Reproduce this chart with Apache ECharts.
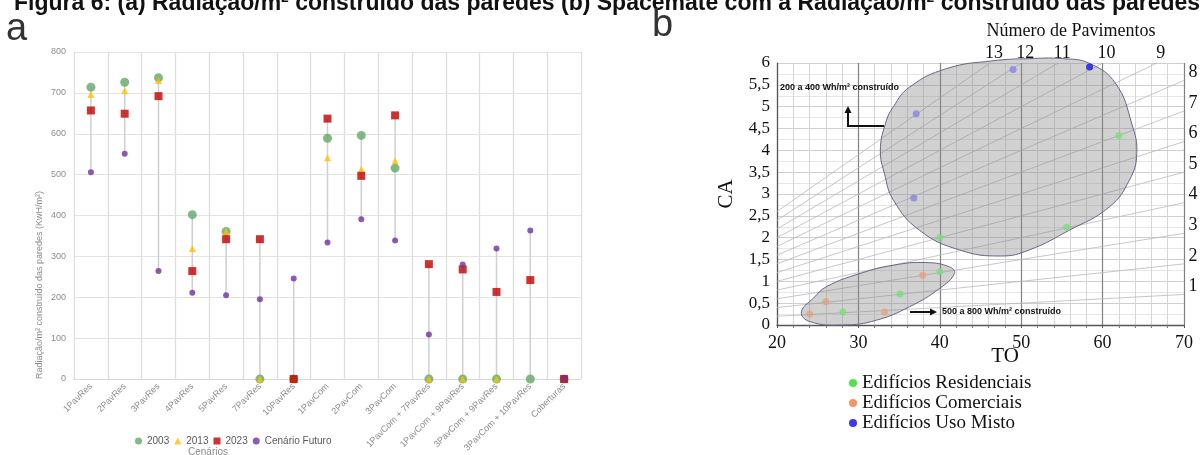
<!DOCTYPE html>
<html><head><meta charset="utf-8">
<script src="https://cdn.jsdelivr.net/npm/echarts@6/dist/echarts.min.js"></script>
<style>html,body{margin:0;padding:0;background:#fff}#c{width:1202px;height:455px}</style>
</head><body><div id="c"></div>
<script>
// ---------- Panel (a) data ----------
const cenarios = ['1PavRes','2PavRes','3PavRes','4PavRes','5PavRes','7PavRes','10PavRes','1PavCom','2PavCom','3PavCom','1PavCom + 7PavRes','1PavCom + 9PavRes','3PavCom + 9PavRes','3PavCom + 10PavRes','Coberturas'];
const v2003   = [714,726,737,402,361,0,0,589,596,516,0,0,0,0,0];
const v2013   = [696,705,730,319,360,0,0,541,513,534,0,0,0,null,0];
const v2023   = [657,649,692,264,342,342,0,637,497,645,281,268,213,242,0];
const vFuturo = [506,551,264,211,205,195,246,334,391,339,109,280,319,363,0];

// ---------- Panel (b) data ----------
const pavimentos = [1,2,3,4,5,6,7,8,9,10,11,12,13];
const residenciais = [[40.0,2.0],[40.0,1.22],[35.1,0.71],[28.1,0.30],[62.0,4.34],[55.6,2.24]];
const comerciais   = [[24.0,0.25],[26.0,0.53],[33.2,0.30],[37.9,1.14]];
const usoMisto     = [[37.1,4.84],[36.8,2.91],[49.0,5.85],[58.4,5.91]];
const blobGrande = [[32.7,4.0],[33.3,4.6],[34.3,5.0],[36.3,5.45],[40.8,5.87],[46.5,6.05],[51,6.1],[55.1,6.1],[58.4,5.99],[61.6,5.53],[63.6,4.6],[64.2,3.93],[63.3,3.32],[60.8,2.7],[55.9,2.17],[51.0,1.72],[47.5,1.58],[42.4,1.72],[37.5,2.17],[34.3,2.86],[33.2,3.47]];
const blobPequeno = [[23.0,0.3],[24.5,0.62],[26.1,0.88],[30.2,1.18],[34.3,1.37],[38.3,1.43],[41.2,1.33],[41.8,1.18],[40.0,0.84],[36.3,0.42],[32.2,0.11],[28.1,0.0],[24.0,0.08]];

const serif = '"Liberation Serif", "Times New Roman", serif';
const sans = '"Liberation Sans", Arial, sans-serif';

const ranges = cenarios.map((c, i) => {
  const vals = [v2003[i], v2013[i], v2023[i], vFuturo[i]].filter(v => v != null);
  return [i, Math.min(...vals), Math.max(...vals)];
});

const chart = echarts.init(document.getElementById('c'));

const option = {
  animation: false,
  backgroundColor: '#fff',
  grid: [
    {left: 74, top: 52, width: 507, height: 327},
    {left: 777, top: 63, width: 407, height: 262}
  ],
  xAxis: [
    {type: 'category', gridIndex: 0, data: cenarios, boundaryGap: true,
     axisLine: {lineStyle: {color: '#d9d9d9'}}, axisTick: {show: false},
     axisLabel: {rotate: 45, fontSize: 9, color: '#8c8c8c', margin: 6, interval: 0, fontFamily: sans},
     splitLine: {show: true, interval: 0, lineStyle: {color: '#dedede', width: 1.3}}},
    {type: 'value', gridIndex: 1, min: 20, max: 70, interval: 10,
     axisLine: {lineStyle: {color: '#555', width: 1.4}},
     axisTick: {show: true, length: 3, lineStyle: {color: '#555'}},
     minorTick: {show: true, splitNumber: 5, length: 3, lineStyle: {color: '#777'}},
     axisLabel: {fontFamily: serif, fontSize: 18, color: '#111', margin: 9},
     splitLine: {show: true, lineStyle: {color: '#808080', width: 1.2}},
     minorSplitLine: {show: true, lineStyle: {color: '#d6d6d6', width: 1}}}
  ],
  yAxis: [
    {type: 'value', gridIndex: 0, min: 0, max: 800, interval: 100,
     axisLine: {show: false}, axisTick: {show: false},
     axisLabel: {fontSize: 9, color: '#8c8c8c', margin: 8, fontFamily: sans},
     splitLine: {lineStyle: {color: '#e3e3e3', width: 1}}},
    {type: 'value', gridIndex: 1, min: 0, max: 6, interval: 0.5,
     name: 'CA', nameLocation: 'middle', nameGap: 40,
     nameTextStyle: {fontFamily: serif, fontSize: 21, color: '#111'},
     axisLine: {show: true, lineStyle: {color: '#555', width: 1.2}},
     axisTick: {show: false},
     axisLabel: {fontFamily: serif, fontSize: 17, color: '#111', margin: 7,
                 formatter: v => String(v).replace('.', ',')},
     splitLine: {lineStyle: {color: '#cfcfcf', width: 1}},
     minorTick: {show: false, splitNumber: 2},
     minorSplitLine: {show: true, lineStyle: {color: '#e6e6e6', width: 1}}}
  ],
  legend: [
    {data: [{name: '2003', icon: 'circle'}, {name: '2013', icon: 'triangle'},
            {name: '2023', icon: 'rect'}, {name: 'Cenário Futuro', icon: 'circle'}],
     left: 130, top: 431, itemWidth: 7, itemHeight: 7, itemGap: 5,
     textStyle: {fontSize: 10, color: '#595959', fontFamily: sans}},
    {data: [{name: 'Edifícios Residenciais', itemStyle: {color: '#22dd22'}},
            {name: 'Edifícios Comerciais', itemStyle: {color: '#f07a40'}},
            {name: 'Edifícios Uso Misto', itemStyle: {color: '#0a0ae6'}}],
     orient: 'vertical', left: 844, top: 368, icon: 'circle', itemWidth: 8, itemHeight: 8, itemGap: 0,
     textStyle: {fontFamily: serif, fontSize: 19, color: '#111', lineHeight: 20}}
  ],
  series: [
    {type: 'custom', name: 'faixa', xAxisIndex: 0, yAxisIndex: 0, data: ranges, z: 1, silent: true,
     encode: {x: 0, y: [1, 2]},
     renderItem: (params, api) => {
       const a = api.coord([api.value(0), api.value(1)]);
       const b = api.coord([api.value(0), api.value(2)]);
       return {type: 'line', shape: {x1: a[0], y1: a[1], x2: b[0], y2: b[1]},
               style: {stroke: '#cfcfcf', lineWidth: 1.5}};
     }},
    {type: 'scatter', name: '2003', xAxisIndex: 0, yAxisIndex: 0, data: v2003, symbol: 'circle', symbolSize: 9,
     itemStyle: {color: '#64a768'}, z: 3},
    {type: 'scatter', name: '2013', xAxisIndex: 0, yAxisIndex: 0, data: v2013, symbol: 'triangle', symbolSize: 7,
     itemStyle: {color: '#ffc000'}, z: 4},
    {type: 'scatter', name: '2023', xAxisIndex: 0, yAxisIndex: 0, data: v2023, symbol: 'rect', symbolSize: 8,
     itemStyle: {color: '#c00000'}, z: 5},
    {type: 'scatter', name: 'Cenário Futuro', xAxisIndex: 0, yAxisIndex: 0, data: vFuturo, symbol: 'circle', symbolSize: 6,
     itemStyle: {color: '#7030a0'}, z: 6},

    // Panel b: floor lines (CA = TO x N / 100)
    {type: 'custom', name: 'pav', xAxisIndex: 1, yAxisIndex: 1, z: 2, silent: true,
     data: pavimentos.map(n => [n, 0]),
     renderItem: (params, api) => {
       const n = api.value(0);
       const toEnd = Math.min(70, 600 / n);
       const p0 = api.coord([20, 20 * n / 100]);
       const p1 = api.coord([toEnd, toEnd * n / 100]);
       const top = api.coord([20, 6])[1];
       const lx = toEnd < 70 ? p1[0] + 4 : p1[0] + 9;
       const ly = toEnd < 70 ? top - 10 : p1[1] - 8;
       return {type: 'group', children: [
         {type: 'line', shape: {x1: p0[0], y1: p0[1], x2: p1[0], y2: p1[1]}, style: {stroke: '#b9b9b9', lineWidth: 0.8}},
         {type: 'text', style: {text: String(n), x: lx, y: ly, fill: '#111', fontFamily: serif, fontSize: 18, align: 'center', verticalAlign: 'middle'}}
       ]};
     }},
    {type: 'custom', name: 'blobs', xAxisIndex: 1, yAxisIndex: 1, z: 3, silent: true,
     data: [[45, 3]],
     renderItem: (params, api) => ({type: 'group', children: [
       {type: 'polygon', shape: {points: blobGrande.map(p => api.coord(p)), smooth: 0.45},
        style: {fill: 'rgba(140,140,140,0.40)', stroke: '#66668a', lineWidth: 1}},
       {type: 'polygon', shape: {points: blobPequeno.map(p => api.coord(p)), smooth: 0.45},
        style: {fill: 'rgba(140,140,140,0.40)', stroke: '#66668a', lineWidth: 1}}
     ]})},
    {type: 'scatter', name: 'Edifícios Residenciais', xAxisIndex: 1, yAxisIndex: 1, data: residenciais, symbolSize: 7,
     itemStyle: {color: '#7ddc7d'}, z: 5},
    {type: 'scatter', name: 'Edifícios Comerciais', xAxisIndex: 1, yAxisIndex: 1, data: comerciais, symbolSize: 7,
     itemStyle: {color: '#e2a283'}, z: 5},
    {type: 'scatter', name: 'Edifícios Uso Misto', xAxisIndex: 1, yAxisIndex: 1, data: usoMisto, symbolSize: 7,
     itemStyle: {color: p => p.dataIndex === 3 ? '#1414e6' : '#8686e2'}, z: 5}
  ],
  graphic: [
    {type: 'text', left: 14, top: -8, style: {text: 'Figura 6: (a) Radiação/m² construído das paredes (b) Spacemate com a Radiação/m² construído das paredes', fontFamily: sans, fontWeight: 'bold', fontSize: 23, fill: '#111'}},
    {type: 'text', x: 6, y: 30, style: {text: 'a', fontFamily: sans, fontSize: 38, fill: '#333', verticalAlign: 'middle'}},
    {type: 'text', x: 652, y: 26, style: {text: 'b', fontFamily: sans, fontSize: 38, fill: '#333', verticalAlign: 'middle'}},
    {type: 'text', x: 40, y: 285, rotation: Math.PI / 2, style: {text: 'Radiação/m² construído das paredes (KwH/m²)', fontFamily: sans, fontSize: 9, fill: '#8c8c8c', align: 'center', verticalAlign: 'middle'}},
    {type: 'text', x: 208, y: 452, style: {text: 'Cenários', fontFamily: sans, fontSize: 10, fill: '#8c8c8c', align: 'center', verticalAlign: 'middle'}},
    {type: 'text', x: 1071, y: 31, style: {text: 'Número de Pavimentos', fontFamily: serif, fontSize: 18, fill: '#111', align: 'center', verticalAlign: 'middle'}},
    {type: 'text', x: 1005, y: 356, style: {text: 'TO', fontFamily: serif, fontSize: 21, fill: '#111', align: 'center', verticalAlign: 'middle'}},
    {type: 'text', x: 780, y: 88, z: 10, style: {text: '200 a 400 Wh/m² construído', fontFamily: sans, fontWeight: 'bold', fontSize: 9, fill: '#111', verticalAlign: 'middle'}},
    {type: 'text', x: 942, y: 312, z: 10, style: {text: '500 a 800 Wh/m² construído', fontFamily: sans, fontWeight: 'bold', fontSize: 9, fill: '#111', verticalAlign: 'middle'}},
    {type: 'polyline', z: 10, shape: {points: [[884, 126], [848, 126], [848, 112]]}, style: {stroke: '#111', lineWidth: 2, fill: null}},
    {type: 'polygon', z: 10, shape: {points: [[844.5, 113], [851.5, 113], [848, 106]]}, style: {fill: '#111'}},
    {type: 'line', z: 10, shape: {x1: 910, y1: 312, x2: 931, y2: 312}, style: {stroke: '#111', lineWidth: 2}},
    {type: 'polygon', z: 10, shape: {points: [[930, 308.5], [930, 315.5], [937, 312]]}, style: {fill: '#111'}}
  ]
};
chart.setOption(option);
</script>
</body></html>
